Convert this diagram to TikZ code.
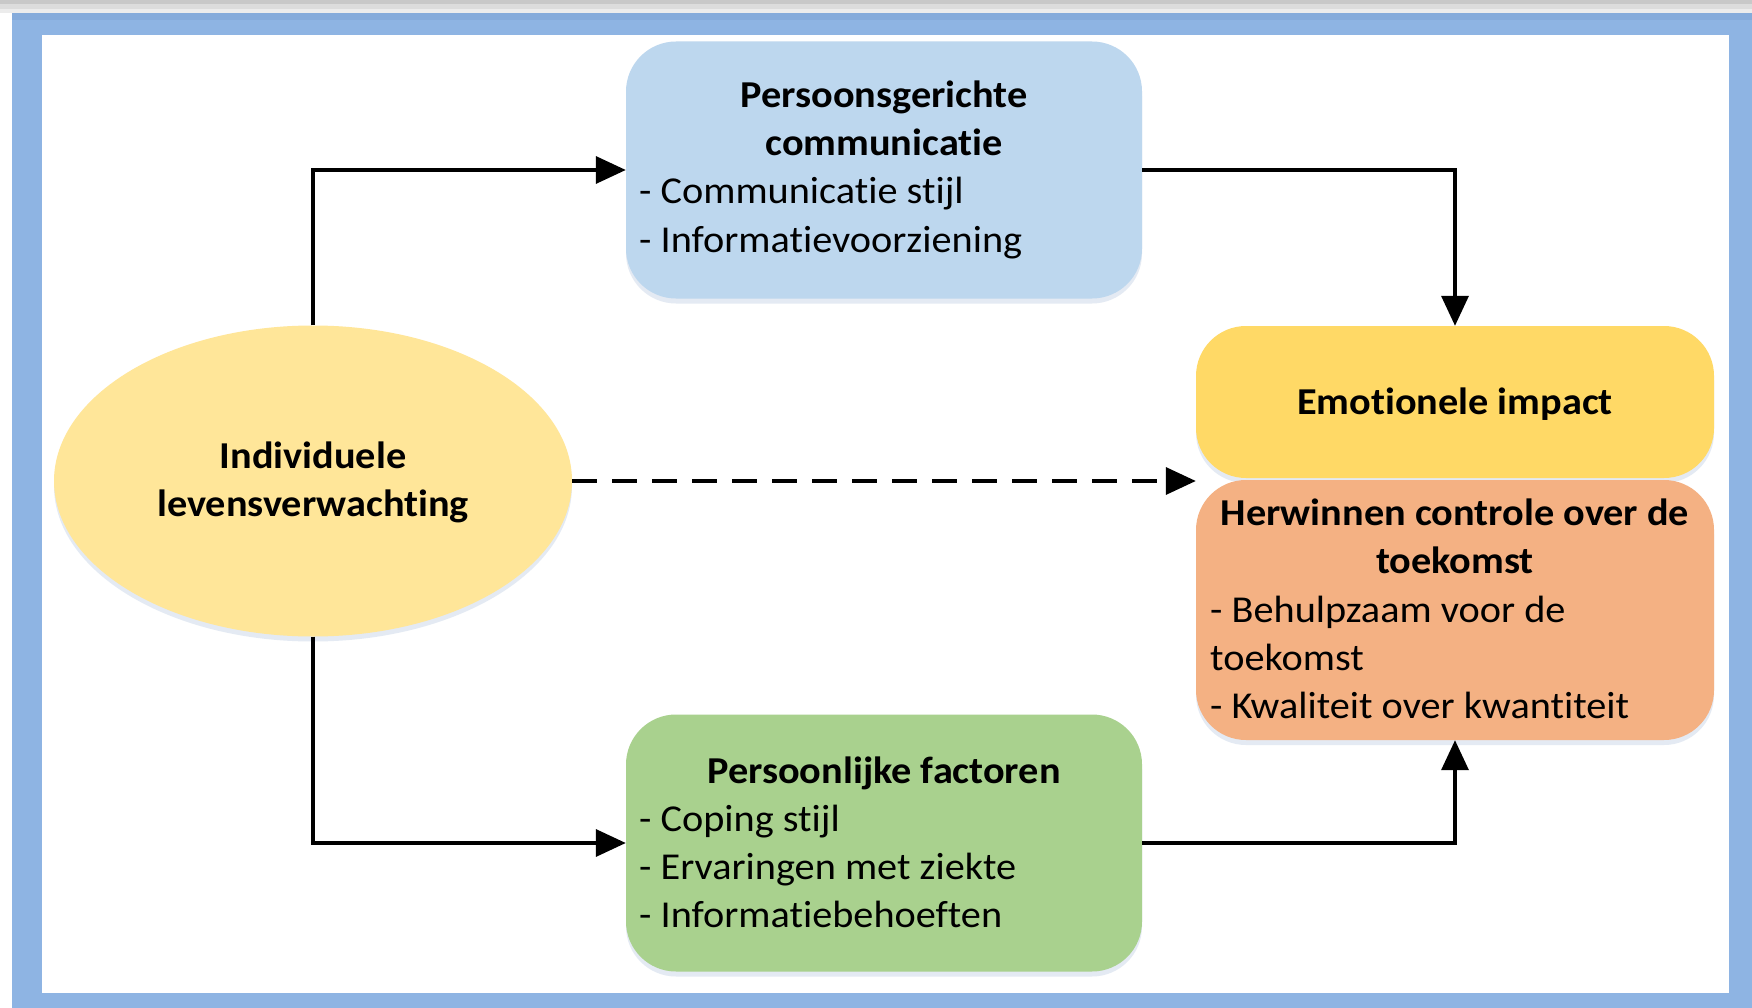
\documentclass[tikz,border=0pt]{standalone}
\usepackage{fontspec}
\setmainfont{Carlito}[RawFeature=-liga, FakeStretch=1.06]
\usetikzlibrary{arrows.meta,shadows,shapes.geometric}
\definecolor{frameblue}{HTML}{8EB4E3}
\definecolor{frametop}{HTML}{85ABDB}
\definecolor{boxblue}{HTML}{BDD7EE}
\definecolor{ellyellow}{HTML}{FFE699}
\definecolor{emoyellow}{HTML}{FFD966}
\definecolor{boxorange}{HTML}{F4B183}
\definecolor{boxgreen}{HTML}{A9D18E}
\definecolor{strip1}{HTML}{C8C8C8}
\definecolor{strip2}{HTML}{DCDCDC}
\definecolor{strip3}{HTML}{ECECEC}
\definecolor{shadowc}{HTML}{A8BCD8}
\begin{document}
\begin{tikzpicture}[x=1pt,y=-1pt,
  shad/.style={drop shadow={shadow xshift=0pt, shadow yshift=-5pt, opacity=0.3, fill=shadowc}},
  box/.style={rectangle, rounded corners=50pt, draw=none, inner sep=0pt, shad},
  txt/.style={inner sep=0pt, anchor=base, font=\fontsize{38}{46}\selectfont},
  ttl/.style={txt, font=\fontsize{38}{46}\selectfont\bfseries},
  itm/.style={txt, anchor=base west},
  arr/.style={line width=3.5pt, -{Triangle[length=30pt,width=27pt]}}]
\useasboundingbox (0,0) rectangle (1752,1008);
\fill[white] (0,0) rectangle (1752,1008);
\fill[strip1] (0,0) rectangle (1752,4);
\fill[strip2] (0,4) rectangle (1752,9);
\fill[strip3] (0,9) rectangle (1752,13);
\fill[frameblue] (12,13) rectangle (1752,1008);
\fill[frametop] (12,13) rectangle (1752,20);
\fill[white] (42,35) rectangle (1729,993);

% nodes
\node[box, fill=boxblue, minimum width=516pt, minimum height=257pt] (pc) at (884,170) {};
\node[box, fill=boxgreen, minimum width=516pt, minimum height=257pt] (pf) at (884,843) {};
\node[box, fill=emoyellow, minimum width=518pt, minimum height=152pt] (ei) at (1455,402) {};
\node[box, fill=boxorange, minimum width=518pt, minimum height=260pt] (hc) at (1455,610) {};
\node[ellipse, draw=none, fill=ellyellow, minimum width=518pt, minimum height=311pt, inner sep=0pt, shad] (ell) at (313,481) {};

% texts
\node[ttl] (pct1) at (884,108) {Persoonsgerichte};
\node[ttl] (pct2) at (884,156) {communicatie};
\node[itm] (pci1) at (639,204) {- Communicatie stijl};
\node[itm] (pci2) at (639,252) {- Informatievoorziening};

\node[ttl] (pft1) at (884,783) {Persoonlijke factoren};
\node[itm] (pfi1) at (639,831) {- Coping stijl};
\node[itm] (pfi2) at (639,879) {- Ervaringen met ziekte};
\node[itm] (pfi3) at (639,927) {- Informatiebehoeften};

\node[ttl] (eit) at (1455,414) {Emotionele impact};

\node[ttl] (hct1) at (1455,525) {Herwinnen controle over de};
\node[ttl] (hct2) at (1455,573) {toekomst};
\node[itm] (hci1) at (1210,622) {- Behulpzaam voor de};
\node[itm] (hci2) at (1210,670) {toekomst};
\node[itm] (hci3) at (1210,718) {- Kwaliteit over kwantiteit};

\node[ttl] (elt1) at (313,468) {Individuele};
\node[ttl] (elt2) at (313,516) {levensverwachting};

% connectors
\draw[arr] (ell.north) |- (pc.west);
\draw[arr] (pc.east) -| (ei.north);
\draw[arr] (ell.south) |- (pf.west);
\draw[arr] (pf.east) -| (hc.south);
\coordinate (dashend) at (ell.east -| ei.west);
\draw[arr, dash pattern=on 25pt off 15pt] (ell.east) -- (dashend);
\end{tikzpicture}
\end{document}
